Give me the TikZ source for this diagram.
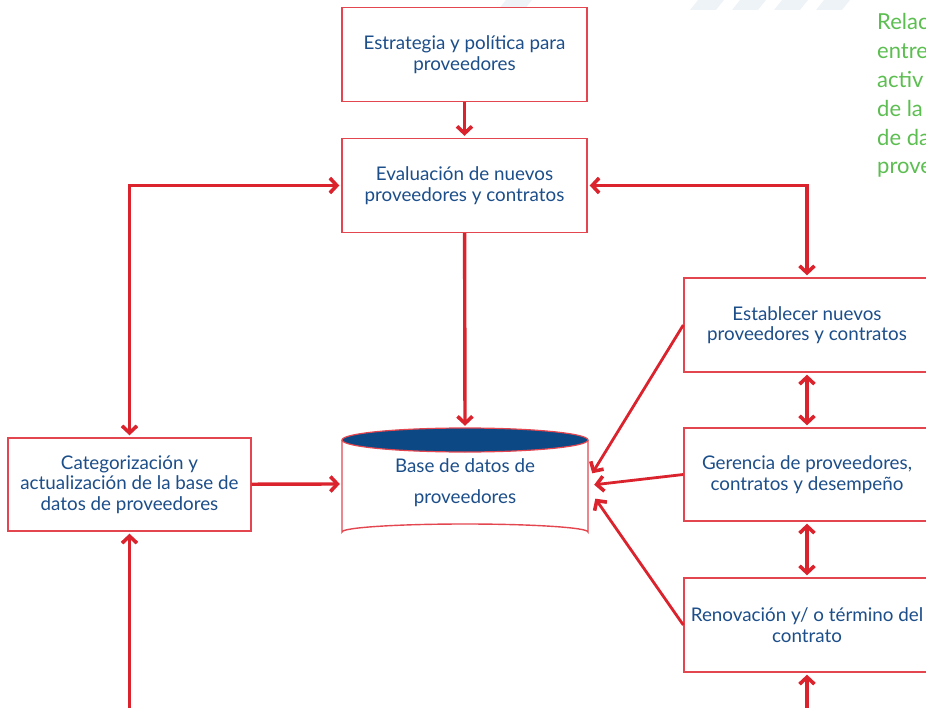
\documentclass[tikz,border=0pt]{standalone}
\usepackage{fontspec}
\setmainfont{Lato}
\usetikzlibrary{arrows.meta,calc}
\definecolor{boxred}{RGB}{228,70,80}
\definecolor{arrowred}{RGB}{218,35,45}
\definecolor{navy}{RGB}{12,72,132}
\definecolor{txtblue}{RGB}{28,78,138}
\definecolor{leaf}{RGB}{92,190,80}
\definecolor{haze}{RGB}{238,243,248}
\tikzset{barb/.tip={Straight Barb[length=7pt,width=15pt,line width=3.6pt]}}
\begin{document}
\begin{tikzpicture}[x=1pt,y=-1pt,
  procbox/.style={draw=boxred,line width=1.4pt,fill=white,minimum width=245pt,
    minimum height=94pt,inner sep=0pt,align=center,text=txtblue,
    font=\fontsize{18.8}{20.5}\selectfont},
  flow/.style={draw=arrowred,line width=3.4pt,-barb,shorten >=2pt},
  twoway/.style={flow,barb-barb,shorten <=2pt},
  slant/.style={flow,line width=2.8pt},
  sidenote/.style={anchor=base west,inner sep=0pt,text=leaf,
    font=\fontsize{22}{28}\selectfont}]
\useasboundingbox (0,0) rectangle (926,708);
\begin{scope}
\clip (0,0) rectangle (926,708);

% faint diagonal bands along the top edge
\foreach \u in {506,698,740,782,824}
  \fill[haze] (\u,0) -- (\u+26,0) -- (\u+18,10) -- (\u-8,10) -- cycle;

% process boxes
\node[procbox] (strat) at (464.5,54.5) {Estrategia y política para\\proveedores};
\node[procbox] (eval)  at (464.5,185.5) {Evaluación de nuevos\\proveedores y contratos};
\node[procbox,minimum width=243pt,minimum height=93pt] (cat) at (129.5,484.5)
  {Categorización y\\actualización de la base de\\datos de proveedores};
\node[procbox,minimum width=246pt] (est) at (807,325) {Establecer nuevos\\proveedores y contratos};
\node[procbox,minimum width=246pt,minimum height=93pt] (ger) at (807,474.5) {Gerencia de proveedores,\\contratos y desempeño};
\node[procbox,minimum width=246pt] (ren) at (807,625) {Renovación y/ o término del\\contrato};

% database cylinder
\node[minimum width=246pt,minimum height=112pt,inner sep=0pt] (db) at (465,484) {};
\draw[boxred,line width=1.4pt,fill=white]
  (342,440) -- (342,532) arc[start angle=180,end angle=360,x radius=123,y radius=8]
  -- (588,440);
\draw[boxred,line width=1.2pt,fill=navy] (465,440) ellipse[x radius=123,y radius=12];
\node[text=txtblue,align=center,font=\fontsize{18.8}{31}\selectfont] (dbtext) at (465,483)
  {Base de datos de\\proveedores};

% incoming ends
\coordinate (dbA) at ($(db.east)+(3,-9)$);
\coordinate (dbB) at ($(db.east)+(4,1)$);
\coordinate (dbC) at ($(db.east)+(6,13)$);
\coordinate (catfoot) at (129.5,712);
\coordinate (renfoot) at (807,712);

% connectors
\draw[flow] (strat) -- (eval);
\draw[flow] (eval) -- (db.north);
\draw[flow] (cat) -- (db.west);
\draw[twoway] (eval.west) -| (cat.north);
\draw[twoway] (eval.east) -| (est.north);
\draw[twoway] (est) -- (ger);
\draw[twoway] (ger) -- (ren);
\draw[flow] (catfoot) -- (cat.south);
\draw[flow] (renfoot) -- (ren.south);
\draw[slant] (est.west) -- (dbA);
\draw[slant] (ger.west) -- (dbB);
\draw[slant] (ren.west) -- (dbC);

% side note in the margin
\foreach \t [count=\i] in {Relac,entre,activ,de la,de da,prove}
  \node[sidenote] (note\i) at (877,30+28.8*\i-28.8) {\t};
\end{scope}
\end{tikzpicture}
\end{document}
